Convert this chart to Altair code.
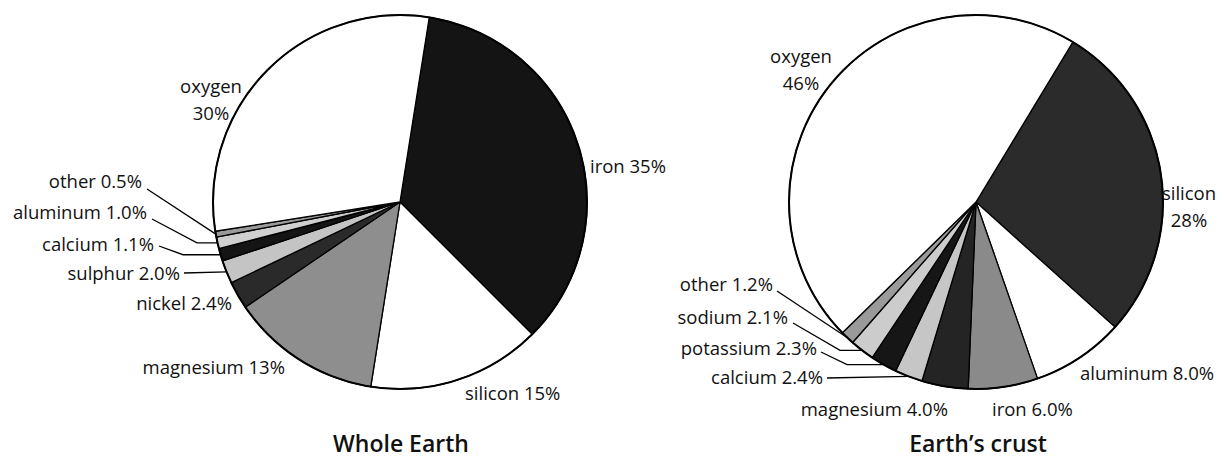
import math
import altair as alt
import pandas as pd

# ---------------- data ----------------
whole_elements = ["iron", "silicon", "magnesium", "nickel", "sulphur",
                  "calcium", "aluminum", "other", "oxygen"]
whole_values = [35, 15, 13, 2.4, 2.0, 1.1, 1.0, 0.5, 30]
whole_labels = ["iron 35%", "silicon 15%", "magnesium 13%", "nickel 2.4%",
                "sulphur 2.0%", "calcium 1.1%", "aluminum 1.0%", "other 0.5%",
                "oxygen\n30%"]
whole_title = "Whole Earth"

crust_elements = ["silicon", "aluminum", "iron", "magnesium", "calcium",
                  "potassium", "sodium", "other", "oxygen"]
crust_values = [28, 8.0, 6.0, 4.0, 2.4, 2.3, 2.1, 1.2, 46]
crust_labels = ["silicon\n28%", "aluminum 8.0%", "iron 6.0%", "magnesium 4.0%",
                "calcium 2.4%", "potassium 2.3%", "sodium 2.1%", "other 1.2%",
                "oxygen\n46%"]
crust_title = "Earth\u2019s crust"

# ---------------- styles ----------------
whole_colors = ["#141414", "#ffffff", "#8e8e8e", "#2a2a2a", "#c4c4c4",
                "#141414", "#cfcfcf", "#9a9a9a", "#ffffff"]
crust_colors = ["#2b2b2b", "#ffffff", "#8a8a8a", "#242424", "#c6c6c6",
                "#161616", "#cccccc", "#9a9a9a", "#ffffff"]

FONT = "Open Sans"
M = 8  # page margin

# ---------------- layout (page pixels) ----------------
whole_geom = dict(cx=400, cy=202, r=187, start=9.0)
crust_geom = dict(cx=976, cy=202, r=187, start=31.2)

# element -> (x, y, align, leader_start or None, elbow_x or None)
whole_layout = {
    "iron": (590, 167, "left", None, None),
    "silicon": (465, 394, "left", None, None),
    "magnesium": (285, 368, "right", None, None),
    "nickel": (232, 304, "right", None, None),
    "sulphur": (180, 274, "right", (184, 273), None),
    "calcium": (154, 245, "right", (159, 246), 183),
    "aluminum": (147, 213, "right", (152, 219), 197),
    "other": (142, 182, "right", (147, 189), None),
    "oxygen": (211, 87, "center", None, None),
}
crust_layout = {
    "silicon": (1189, 194, "center", None, None),
    "aluminum": (1080, 374, "left", None, None),
    "iron": (992, 410, "left", None, None),
    "magnesium": (948, 410, "right", None, None),
    "calcium": (823, 378, "right", (827, 378), None),
    "potassium": (817, 349, "right", (821, 352), 847),
    "sodium": (788, 318, "right", (793, 323), 840),
    "other": (773, 285, "right", (777, 291), None),
    "oxygen": (801, 57, "center", None, None),
}
whole_title_pos = (401, 445)
crust_title_pos = (978, 445)


def pie_layers(elements, values, labels, colors, geom, layout, title, title_pos):
    df = pd.DataFrame({"element": elements, "value": values,
                       "idx": list(range(len(elements)))})
    a0 = math.radians(geom["start"])
    arc = alt.Chart(df).mark_arc(radius=geom["r"], stroke="black",
                                 strokeWidth=1.3).encode(
        theta=alt.Theta("value:Q", stack=True,
                        scale=alt.Scale(range=[a0, a0 + 2 * math.pi])),
        order=alt.Order("idx:Q"),
        color=alt.Color("element:N",
                        scale=alt.Scale(domain=elements, range=colors),
                        legend=None),
        x=alt.value(geom["cx"] - M),
        y=alt.value(geom["cy"] - M),
    )
    outline = alt.Chart(pd.DataFrame({"k": [0]})).mark_point(
        shape="circle", filled=False, stroke="black", strokeWidth=2,
        size=(2 * geom["r"]) ** 2, opacity=1).encode(
        x=alt.value(geom["cx"] - M), y=alt.value(geom["cy"] - M))

    text_rows = []
    line_rows = []
    total = sum(values)
    cum = 0.0
    for el, v, lab in zip(elements, values, labels):
        mid = geom["start"] + 360.0 * (cum + v / 2.0) / total
        cum += v
        x, y, align, start, elbow = layout[el]
        text_rows.append({"label": lab, "px": x - M, "py": y - M, "align": align})
        if start is not None:
            ex = geom["cx"] + geom["r"] * math.sin(math.radians(mid))
            ey = geom["cy"] - geom["r"] * math.cos(math.radians(mid))
            pts = [start]
            if elbow is not None:
                pts.append((elbow, ey))
            pts.append((ex, ey))
            for i, (px, py) in enumerate(pts):
                line_rows.append({"key": el, "o": i, "px": px - M, "py": py - M})
    tdf = pd.DataFrame(text_rows)
    layers = [arc, outline]
    for al in ["left", "right", "center"]:
        sub = tdf[tdf["align"] == al]
        if len(sub) == 0:
            continue
        layers.append(alt.Chart(sub).mark_text(
            align=al, baseline="middle", font=FONT, fontSize=18.5,
            color="#111", lineBreak="\n", lineHeight=27).encode(
            x=alt.X("px:Q", scale=None), y=alt.Y("py:Q", scale=None),
            text="label:N"))
    if line_rows:
        layers.append(alt.Chart(pd.DataFrame(line_rows)).mark_line(
            color="black", strokeWidth=1.3).encode(
            x=alt.X("px:Q", scale=None), y=alt.Y("py:Q", scale=None),
            detail="key:N", order="o:Q"))
    layers.append(alt.Chart(pd.DataFrame({"t": [title]})).mark_text(
        align="center", baseline="middle", font=FONT, fontSize=23,
        fontWeight=600, color="#111").encode(
        x=alt.value(title_pos[0] - M), y=alt.value(title_pos[1] - M),
        text="t:N"))
    return layers


layers = (pie_layers(whole_elements, whole_values, whole_labels, whole_colors,
                     whole_geom, whole_layout, whole_title, whole_title_pos)
          + pie_layers(crust_elements, crust_values, crust_labels, crust_colors,
                       crust_geom, crust_layout, crust_title, crust_title_pos))

chart = alt.layer(*layers).resolve_scale(
    theta="independent", color="independent"
).properties(
    width=1208, height=450, autosize="none", padding=0
).configure_view(stroke=None, strokeWidth=0)

chart.save("out.html", embed_options={"renderer": "svg", "actions": False})
